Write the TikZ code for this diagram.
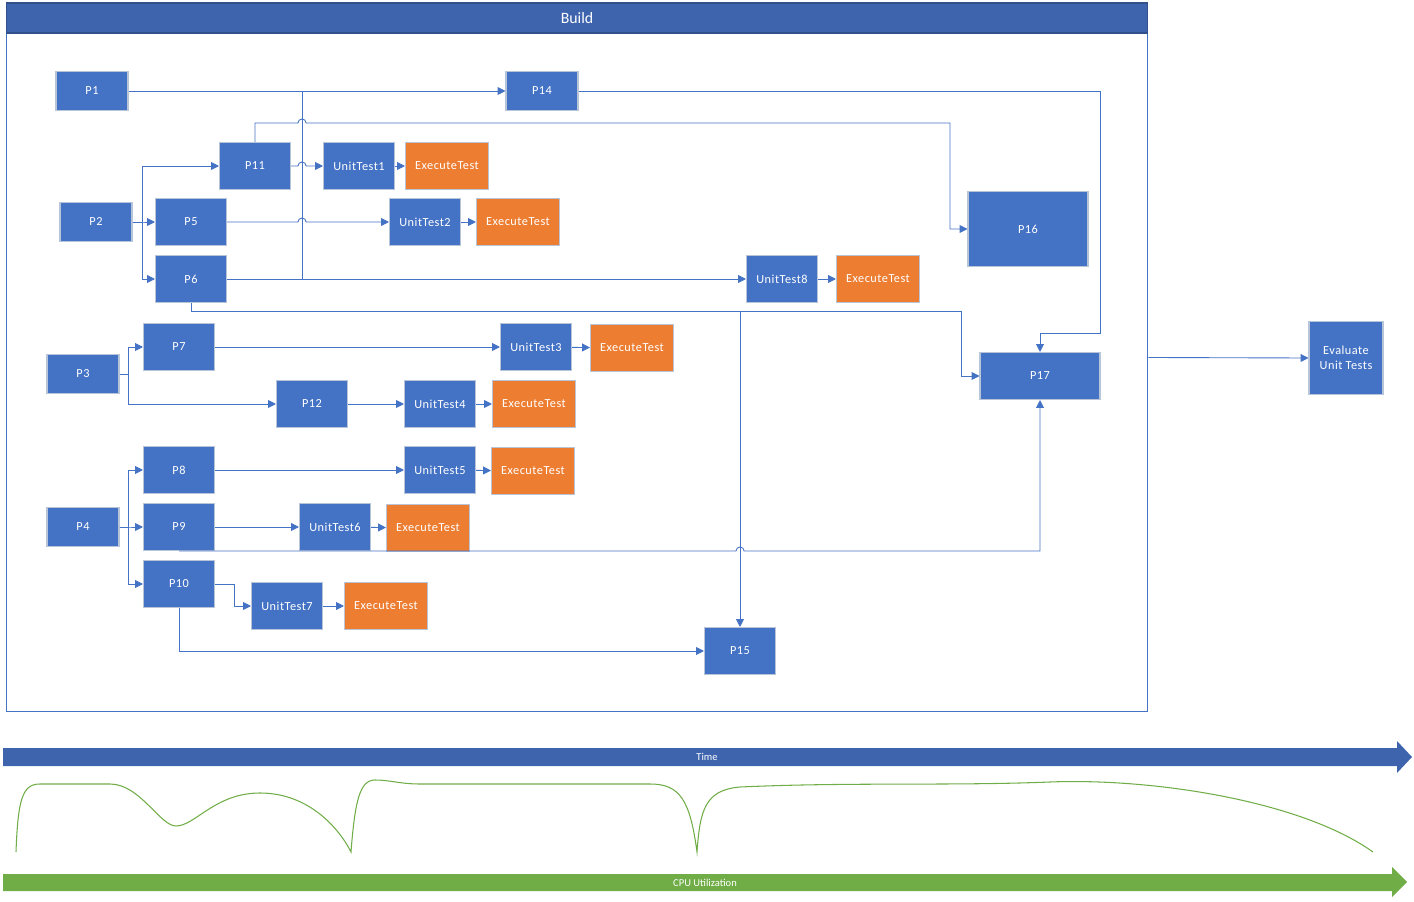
\documentclass[tikz,border=0pt]{standalone}
\usepackage{fontspec}
\setmainfont{Carlito}
\newfontfamily\boxfont[LetterSpace=4]{Carlito}
\usetikzlibrary{arrows.meta}
\definecolor{kek}{HTML}{4472C4}
\definecolor{sotet}{HTML}{3F64AE}
\definecolor{narancs}{HTML}{ED7D31}
\definecolor{zold}{HTML}{70AD47}
\definecolor{keret}{HTML}{B8C4D8}
\tikzset{
  blk/.style={rectangle,fill=kek,draw=keret,line width=0.6pt,text=white,inner sep=0pt,
    minimum width=1.42cm,minimum height=0.94cm,font=\boxfont\fontsize{7}{8.5}\selectfont},
  kis/.style={blk,minimum width=1.44cm,minimum height=0.78cm},
  exe/.style={blk,fill=narancs,minimum width=1.66cm},
  arr/.style={draw=kek,line width=0.5pt,-{Triangle[length=4.5pt,width=4.5pt]}},
  von/.style={draw=kek,line width=0.5pt},
}

\begin{document}
\begin{tikzpicture}[x=0.02cm,y=-0.02cm]
  \useasboundingbox (0,0) rectangle (1414,902);
  \node[draw=kek,line width=0.6pt,minimum width=22.84cm,minimum height=14.18cm,inner sep=0pt] (build) at (577,357.5) {};
  \node[fill=sotet,draw=sotet!80!black,line width=0.6pt,minimum width=22.84cm,minimum height=0.6cm,inner sep=0pt,
    text=white,font=\fontsize{9}{10}\selectfont] (hdr) at (577,18) {Build};

  \node[kis] (p1) at (92,91) {P1};
  \node[kis] (p14) at (542,91) {P14};
  \node[blk] (p11) at (255,166) {P11};
  \node[blk] (ut1) at (359,166) {UnitTest1};
  \node[exe] (ex1) at (447,166) {ExecuteTest};
  \node[kis] (p2) at (96,222) {P2};
  \node[blk] (p5) at (191,222) {P5};
  \node[blk] (ut2) at (425,222) {UnitTest2};
  \node[exe] (ex2) at (518,222) {ExecuteTest};
  \node[blk] (p6) at (191,279) {P6};
  \node[blk] (ut8) at (782,279) {UnitTest8};
  \node[exe] (ex8) at (878,279) {ExecuteTest};
  \node[blk,minimum width=2.4cm,minimum height=1.5cm] (p16) at (1028,229) {P16};
  \node[blk,minimum width=2.4cm] (p17) at (1040,376) {P17};
  \node[kis] (p3) at (83,374) {P3};
  \node[blk] (p7) at (179,347) {P7};
  \node[blk] (ut3) at (536,347) {UnitTest3};
  \node[exe] (ex3) at (632,348) {ExecuteTest};
  \node[blk] (p12) at (312,404) {P12};
  \node[blk] (ut4) at (440,404) {UnitTest4};
  \node[exe] (ex4) at (534,404) {ExecuteTest};
  \node[blk] (p8) at (179,470) {P8};
  \node[blk] (ut5) at (440,470) {UnitTest5};
  \node[exe] (ex5) at (533,471) {ExecuteTest};
  \node[kis] (p4) at (83,527) {P4};
  \node[blk] (p9) at (179,527) {P9};
  \node[blk] (ut6) at (335,527) {UnitTest6};
  \node[exe] (ex6) at (428,528) {ExecuteTest};
  \node[blk] (p10) at (179,584) {P10};
  \node[blk] (ut7) at (287,606) {UnitTest7};
  \node[exe] (ex7) at (386,606) {ExecuteTest};
  \node[blk] (p15) at (740,651) {P15};
  \node[blk,minimum width=1.48cm,minimum height=1.46cm,align=center] (eval) at (1346,358) {Evaluate\\Unit Tests};

  \foreach \i in {1,...,8}
    \draw[arr] (ut\i) -- (ex\i);

  \draw[arr] (p1) -- (p14);
  \draw[von] (p6.east) -| (302,91);
  \draw[arr] (p2.east) -- ++(10,0) |- (p11.west);
  \draw[arr] (p2.east) -- ++(10,0) |- (p5.west);
  \draw[arr] (p2.east) -- ++(10,0) |- (p6.west);
  \draw[arr] (p11.east) -- (298,166) arc[start angle=180,end angle=0,radius=2.3pt] -- (ut1.west);
  \draw[arr] (p5.east) -- (298,222) arc[start angle=180,end angle=0,radius=2.3pt] -- (ut2.west);
  \draw[arr] (p11.north) |- (298,123) arc[start angle=180,end angle=0,radius=2.3pt] -- (950,123) |- (p16.west);
  \draw[arr] (p6) -- (ut8);
  \draw[arr] (p6.south) -- ++(0,8) -| (p15.north);
  \draw[arr] (p6.south) -- ++(0,8) -| ([xshift=-0.36cm]p17.west) -- (p17.west);
  \draw[arr] (p14.east) -| ([yshift=0.38cm]p17.north east) -| (p17.north);

  \draw[arr] (p3.east) -- ++(9,0) |- (p7.west);
  \draw[arr] (p3.east) -- ++(9,0) |- (p12.west);
  \draw[arr] (p7) -- (ut3);
  \draw[arr] (p12) -- (ut4);

  \draw[arr] (p4.east) -- ++(9,0) |- (p8.west);
  \draw[arr] (p4.east) -- ++(9,0) |- (p9.west);
  \draw[arr] (p4.east) -- ++(9,0) |- (p10.west);
  \draw[arr] (p8) -- (ut5);
  \draw[arr] (p9) -- (ut6);
  \draw[arr] (p9.south) -- (736,551) arc[start angle=180,end angle=0,radius=2.3pt] -| (p17.south);
  \draw[arr] (p10.east) -- ++(19,0) |- (ut7.west);
  \draw[arr] (p10.south) |- (p15.west);

  \draw[arr] (build.east) -- (eval.west);

  \fill[sotet] (3,748) -- (1397,748) -- (1397,741) -- (1412,757) -- (1397,773) -- (1397,766) -- (3,766) -- cycle;
  \node[text=white,font=\fontsize{6}{7}\selectfont] (time) at (707,757) {Time};
  \fill[zold] (3,874) -- (1392,874) -- (1392,867) -- (1407,882) -- (1392,897) -- (1392,891) -- (3,891) -- cycle;
  \node[text=white,font=\fontsize{6}{7}\selectfont] (cpu) at (705,883) {CPU Utilization};

  \draw[zold,line width=0.6pt] (16,852) .. controls (18,800) and (22,784) .. (40,784)
    -- (110,784) .. controls (140,784) and (160,826) .. (176,826)
    .. controls (195,826) and (215,793) .. (260,793)
    .. controls (310,793) and (340,830) .. (351,852)
    .. controls (355,800) and (360,780) .. (375,780)
    .. controls (390,780) and (400,784) .. (420,784)
    -- (650,784) .. controls (680,784) and (690,800) .. (697,852)
    .. controls (700,810) and (705,790) .. (740,787)
    .. controls (850,782) and (950,786) .. (1050,782)
    .. controls (1150,778) and (1300,800) .. (1373,852);
\end{tikzpicture}
\end{document}
